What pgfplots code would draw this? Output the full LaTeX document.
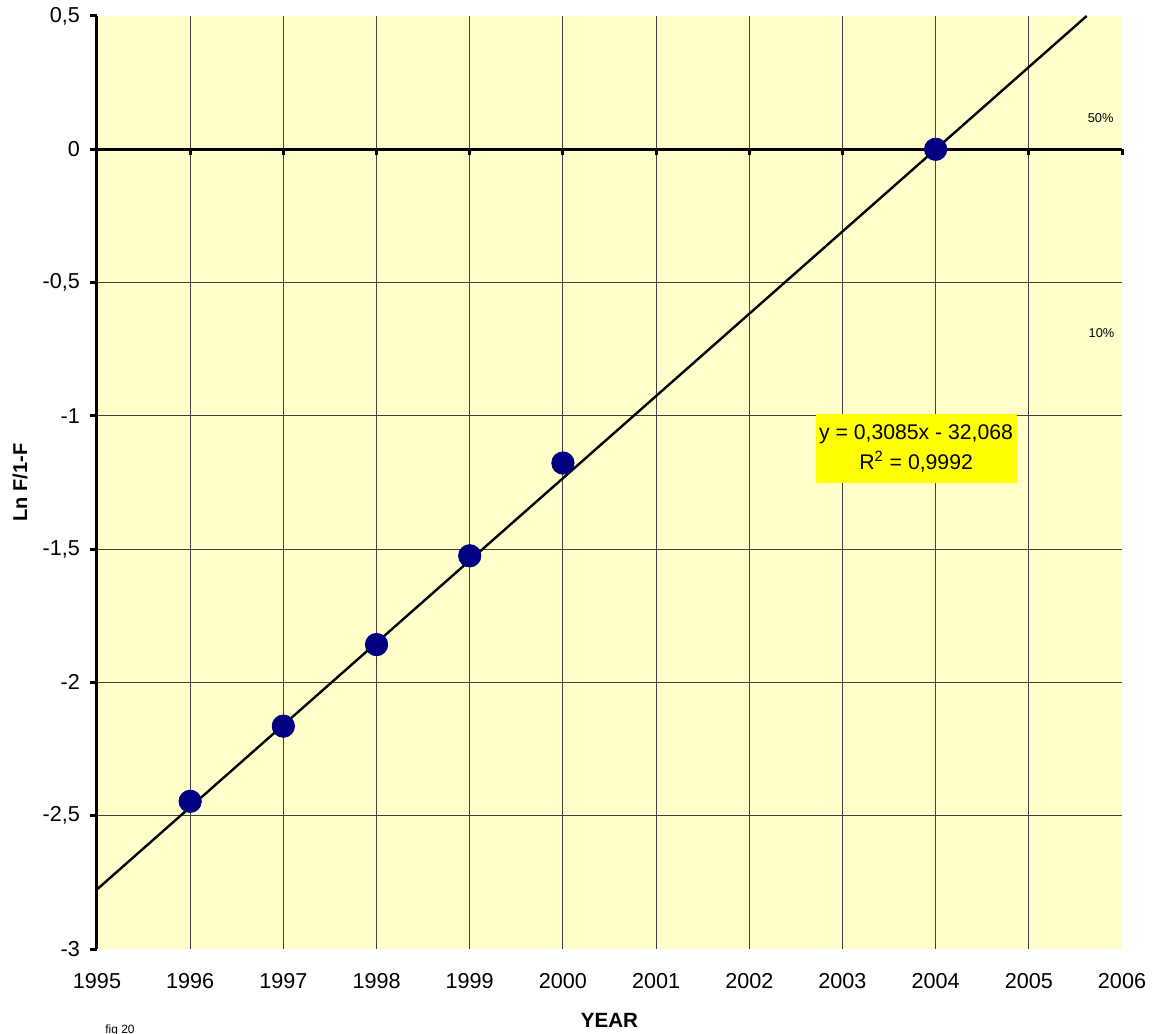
\documentclass[border=0pt]{standalone}
\usepackage{fontspec}
\setmainfont{Liberation Sans}
\usepackage{pgfplots}
\pgfplotsset{compat=1.18}
\usetikzlibrary{calc}
\definecolor{plotbg}{HTML}{FFFFCC}
\definecolor{ptnavy}{HTML}{000080}
\definecolor{gridgray}{HTML}{404040}
\definecolor{eqbox}{HTML}{FFFF00}

\begin{document}
\begin{tikzpicture}
% x is counted in years after 1995
\begin{axis}[
  name=ax,
  scale only axis, width=512.5pt, height=466.5pt,
  xmin=0, xmax=11, ymin=-3, ymax=0.5,
  clip=false,
  axis background/.style={fill=plotbg},
  axis line style={draw=none},
  xtick={0,1,2,3,4,5,6,7,8,9,10,11},
  xticklabels={1995,1996,1997,1998,1999,2000,2001,2002,2003,2004,2005,2006},
  ytick={-3,-2.5,-2,-1.5,-1,-0.5,0,0.5},
  yticklabels={-3,{-2,5},-2,{-1,5},-1,{-0,5},0,{0,5}},
  xtick pos=bottom, ytick pos=left,
  xtick style={draw=none}, ytick style={draw=none},
  xticklabel shift=8.5pt, yticklabel shift=5pt,
  ticklabel style={font=\fontsize{10.8}{12}\selectfont},
  xlabel={YEAR}, ylabel={Ln F/1-F},
  xlabel style={at={(axis description cs:0.5,-0.0761)}, anchor=center,
                font=\fontsize{10.3}{12}\selectfont\bfseries},
  ylabel style={at={(axis description cs:-0.0751,0.5)}, anchor=center,
                font=\fontsize{10}{12}\selectfont\bfseries},
]
% interior grid
\pgfplotsinvokeforeach{1,2,3,4,5,6,7,8,9,10}{
  \draw[gridgray, line width=0.5pt] (axis cs:#1,-3) -- (axis cs:#1,0.5);
}
\pgfplotsinvokeforeach{-2.5,-2,-1.5,-1,-0.5}{
  \draw[gridgray, line width=0.5pt] (axis cs:0,#1) -- (axis cs:11,#1);
}
% value axis on the left, year axis along zero
\draw[black, line width=1.5pt] (axis cs:0,-3) -- (axis cs:0,0.5);
\draw[black, line width=1.5pt] (axis cs:0,0) -- (axis cs:11,0);
\pgfplotsinvokeforeach{-3,-2.5,-2,-1.5,-1,-0.5,0,0.5}{
  \draw[black, line width=1.5pt] (axis cs:0,#1) -- ([xshift=-3.5pt]axis cs:0,#1);
}
\pgfplotsinvokeforeach{0,1,2,3,4,5,6,7,8,9,10,11}{
  \draw[black, line width=1.5pt] (axis cs:#1,0) -- ([yshift=-3pt]axis cs:#1,0);
}
% observations
\addplot[only marks, mark=*, mark size=5.6pt,
  mark options={fill=ptnavy, draw=ptnavy}] coordinates {
  (1,-2.446) (2,-2.164) (3,-1.858) (4,-1.525) (5,-1.177) (9,0)
};
% linear trend
\addplot[black, line width=1.2pt] coordinates {(0,-2.7765) (10.621,0.5)};

\node[font=\fontsize{6.4}{7}\selectfont] at (axis cs:10.77,0.116) {50\%};
\node[font=\fontsize{6.4}{7}\selectfont] at (axis cs:10.78,-0.69) {10\%};
\node[fill=eqbox, minimum width=100.5pt, minimum height=34.5pt, inner sep=0pt,
  align=center, font=\fontsize{10.6}{15}\selectfont]
  at (axis cs:8.79,-1.123) {y = 0,3085x - 32,068\\R\textsuperscript{2} = 0,9992};
\end{axis}
\node[font=\fontsize{6}{7}\selectfont] at ($(ax.south west)+(11.5pt,-40.5pt)$) {fig 20};
\pgfresetboundingbox
\path[use as bounding box] ($(ax.south west)+(-48.5pt,-42pt)$) rectangle ($(ax.north east)+(19.5pt,8pt)$);
\end{tikzpicture}
\end{document}
